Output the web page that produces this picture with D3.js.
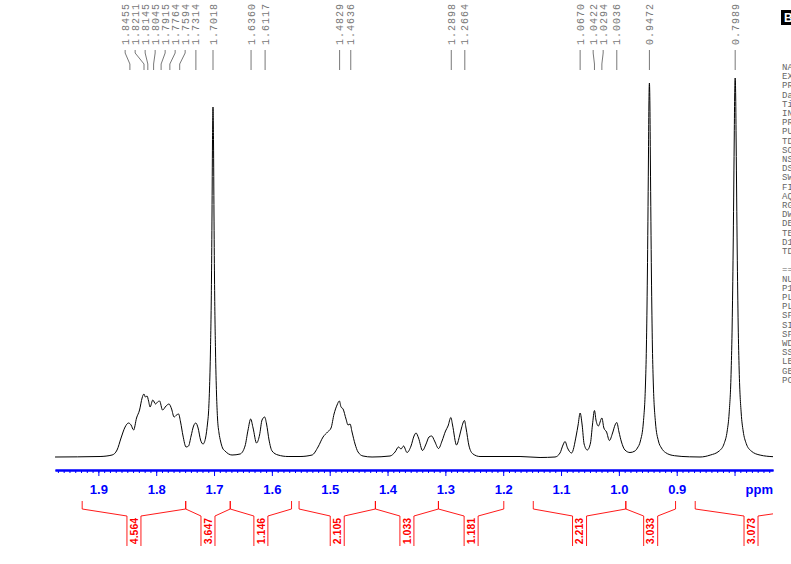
<!DOCTYPE html>
<html>
<head>
<meta charset="utf-8">
<script src="https://cdn.jsdelivr.net/npm/d3@7"></script>
<style>
  html, body { margin: 0; padding: 0; background: #fff; }
  svg { display: block; }
</style>
</head>
<body>
<div id="chart"></div>
<script>
// 1H NMR spectrum, 0.73-1.97 ppm window

// spectrum trace: chemical shift (ppm) and intensity (a.u.)
const spectrumPpm = [
  1.9749, 1.8971, 1.8763, 1.8677, 1.8608, 1.8538, 1.8478, 1.8435, 1.8391, 1.8340,
  1.8288, 1.8244, 1.8213, 1.8187, 1.8158, 1.8132, 1.8106, 1.8059, 1.8011, 1.7977,
  1.7942, 1.7890, 1.7830, 1.7778, 1.7734, 1.7691, 1.7648, 1.7613, 1.7579, 1.7536,
  1.7484, 1.7441, 1.7397, 1.7354, 1.7316, 1.7276, 1.7233, 1.7190, 1.7147, 1.7112,
  1.7096, 1.7079, 1.7061, 1.7044, 1.7035, 1.7027, 1.7018, 1.7009, 1.7001, 1.6992,
  1.6975, 1.6957, 1.6940, 1.6914, 1.6888, 1.6853, 1.6810, 1.6689, 1.6550, 1.6464,
  1.6412, 1.6367, 1.6325, 1.6265, 1.6213, 1.6170, 1.6125, 1.6092, 1.6049, 1.5997,
  1.5893, 1.5720, 1.5513, 1.5305, 1.5202, 1.5115, 1.5037, 1.4977, 1.4925, 1.4873,
  1.4833, 1.4804, 1.4769, 1.4718, 1.4683, 1.4648, 1.4614, 1.4562, 1.4510, 1.4424,
  1.4268, 1.3957, 1.3870, 1.3810, 1.3767, 1.3723, 1.3663, 1.3594, 1.3542, 1.3507,
  1.3464, 1.3395, 1.3334, 1.3283, 1.3236, 1.3187, 1.3118, 1.3058, 1.2997, 1.2954,
  1.2905, 1.2876, 1.2807, 1.2755, 1.2721, 1.2670, 1.2643, 1.2591, 1.2522, 1.2401,
  1.1709, 1.1363, 1.1104, 1.1018, 1.0966, 1.0931, 1.0888, 1.0818, 1.0739, 1.0705,
  1.0670, 1.0635, 1.0601, 1.0546, 1.0491, 1.0457, 1.0422, 1.0396, 1.0355, 1.0294,
  1.0259, 1.0213, 1.0164, 1.0109, 1.0066, 1.0036, 0.9998, 0.9955, 0.9895, 0.9808,
  0.9722, 0.9680, 0.9628, 0.9576, 0.9541, 0.9524, 0.9507, 0.9489, 0.9481, 0.9472,
  0.9463, 0.9455, 0.9437, 0.9420, 0.9403, 0.9368, 0.9316, 0.9264, 0.9195, 0.9040,
  0.8780, 0.8597, 0.8421, 0.8266, 0.8179, 0.8127, 0.8093, 0.8058, 0.8041, 0.8024,
  0.8006, 0.7998, 0.7989, 0.7980, 0.7972, 0.7954, 0.7937, 0.7920, 0.7885, 0.7851,
  0.7799, 0.7712, 0.7557, 0.7332
];
const spectrumInt = [
  1, 1.5, 3, 8, 20, 31, 35, 33, 28, 40,
  48, 60, 64, 61, 62, 57, 51, 58, 54, 56,
  57, 48, 52, 54, 49, 41, 43, 44, 36, 22,
  11, 12, 22, 32, 35, 30, 18, 14, 20, 35,
  45, 68, 110, 180, 245, 315, 351, 315, 245, 180,
  108, 64, 40, 25, 17, 10, 7, 3, 4, 12,
  28, 39, 30, 15, 23, 38, 41, 34, 18, 7,
  3, 1.5, 1.5, 3, 11, 21, 26, 30, 44, 53,
  57, 51, 49, 39, 33, 34, 26, 14, 6, 2,
  1, 2, 6, 11, 9, 12, 5.5, 12, 22, 25,
  20, 7.5, 14, 21, 22, 17, 9.5, 17, 27, 32,
  40.5, 33, 13, 22, 30, 37.5, 30, 12, 4, 1.5,
  1.5, 0.5, 1, 5, 13, 16.5, 10, 5, 22, 33,
  45, 33, 14, 8, 15, 33, 47.5, 38, 32, 40,
  30, 26, 17.5, 25, 33, 35.5, 26, 16, 8, 5.5,
  7, 10, 17, 36, 72, 111, 183, 297, 352, 375,
  352, 297, 183, 111, 72, 36, 17, 10, 5.5, 2.3,
  1.2, 1, 2.9, 7, 14.6, 27, 45, 88, 133, 208,
  315, 361, 380, 361, 315, 208, 133, 88, 45, 27,
  14.6, 7, 2.9, 1.3
];

// picked peaks
const peakPpm = [
  1.8455, 1.8211, 1.8145, 1.8045, 1.7915, 1.7764, 1.7594, 1.7314, 1.7018,
  1.6360, 1.6117, 1.4829, 1.4636, 1.2898, 1.2664,
  1.0670, 1.0422, 1.0294, 1.0036, 0.9472, 0.7989
];

// integral regions (ppm from, ppm to) and values
const integralFrom = [1.928, 1.749, 1.672, 1.553, 1.421, 1.312, 1.148, 0.988, 0.868];
const integralTo = [1.749, 1.672, 1.566, 1.421, 1.312, 1.199, 0.988, 0.902, 0.675];
const integralValue = ["4.564", "3.647", "1.146", "2.105", "1.033", "1.181", "2.213", "3.033", "3.073"];

// axis
const majorTicks = [1.9, 1.8, 1.7, 1.6, 1.5, 1.4, 1.3, 1.2, 1.1, 1.0, 0.9, 0.8];
const tickLabels = ["1.9", "1.8", "1.7", "1.6", "1.5", "1.4", "1.3", "1.2", "1.1", "1.0", "0.9", ""];

// acquisition parameter names (the column is cut off by the right edge)
const paramNames = [
  "NAME", "EXPNO", "PROCNO", "Date_", "Time", "INSTRUM", "PROBHD", "PULPROG",
  "TD", "SOLVENT", "NS", "DS", "SWH", "FIDRES", "AQ", "RG", "DW", "DE", "TE",
  "D1", "TD0", "", "======== CHANNEL f1 ========", "NUC1", "P1", "PL1", "PL1W",
  "SFO1", "SI", "SF", "WDW", "SSB", "LB", "GB", "PC"
];

const W = 791, H = 564;
const plotLeft = 55, plotRight = 773;
const baseY = 458, axisY = 470;
const monoFont = '"Liberation Mono", "DejaVu Sans Mono", monospace';
const sansFont = '"Liberation Sans", Arial, sans-serif';

const x = d3.scaleLinear().domain([1.975, 0.7335]).range([plotLeft, plotRight]);
const y = d3.scaleLinear().domain([0, 380]).range([baseY, 78]);

const svg = d3.select("#chart")
  .append("svg")
  .attr("width", W)
  .attr("height", H)
  .attr("viewBox", `0 0 ${W} ${H}`);

svg.append("rect").attr("width", W).attr("height", H).attr("fill", "#fff");

const defs = svg.append("defs");
defs.append("clipPath").attr("id", "plotClip")
  .append("rect").attr("x", plotLeft - 2).attr("y", 0)
  .attr("width", plotRight - plotLeft + 2).attr("height", H);

// Spectrum
const spec = spectrumPpm.map((p, i) => ({ ppm: p, v: spectrumInt[i] }));
const line = d3.line()
  .x((d) => x(d.ppm))
  .y((d) => y(d.v))
  .curve(d3.curveMonotoneX);

svg.append("path")
  .datum(spec)
  .attr("clip-path", "url(#plotClip)")
  .attr("fill", "none")
  .attr("stroke", "#000")
  .attr("stroke-width", 1)
  .attr("d", line);

// Peak labels: spread overlapping labels apart, centred on their group
function spreadLabels(xs, gap) {
  let groups = xs.map((v, i) => ({ idx: [i], center: v }));
  let changed = true;
  while (changed) {
    changed = false;
    const next = [];
    for (const g of groups) {
      const prev = next[next.length - 1];
      if (prev) {
        const prevEnd = prev.center + (prev.idx.length - 1) * gap / 2;
        const gStart = g.center - (g.idx.length - 1) * gap / 2;
        if (gStart - prevEnd < gap) {
          prev.idx = prev.idx.concat(g.idx);
          prev.center = d3.mean(prev.idx, (k) => xs[k]);
          changed = true;
          continue;
        }
      }
      next.push({ idx: g.idx.slice(), center: g.center });
    }
    groups = next;
  }
  const out = new Array(xs.length);
  for (const g of groups) {
    const n = g.idx.length;
    g.idx.forEach((k, j) => { out[k] = g.center + (j - (n - 1) / 2) * gap; });
  }
  return out;
}

const peakX = peakPpm.map((p) => x(p));
const labelX = spreadLabels(peakX, 10);

const peakG = svg.append("g");
peakG.selectAll("path.conn")
  .data(peakPpm)
  .join("path")
  .attr("class", "conn")
  .attr("fill", "none")
  .attr("stroke", "#555")
  .attr("stroke-width", 0.8)
  .attr("d", (d, i) => `M${labelX[i]},50 L${labelX[i]},53 L${peakX[i]},64 L${peakX[i]},70`);

peakG.selectAll("text.plabel")
  .data(peakPpm)
  .join("text")
  .attr("class", "plabel")
  .attr("transform", (d, i) => `translate(${labelX[i]},45) rotate(-90)`)
  .attr("dy", "0.35em")
  .attr("text-anchor", "start")
  .attr("font-family", monoFont)
  .attr("font-size", 10)
  .attr("letter-spacing", 1)
  .attr("fill", "#777")
  .text((d) => d.toFixed(4));

// Axis
const minorTicks = d3.range(197, 73, -1).map((v) => v / 100);
const minorAxis = d3.axisBottom(x).tickValues(minorTicks).tickSize(3).tickSizeOuter(0).tickFormat("");
const majorAxis = d3.axisBottom(x).tickValues(majorTicks).tickSize(6).tickSizeOuter(0)
  .tickFormat((d, i) => tickLabels[i]);

const axisColor = "#0000ff";
const gMinor = svg.append("g").attr("transform", `translate(0,${axisY})`).call(minorAxis);
const gMajor = svg.append("g").attr("transform", `translate(0,${axisY})`).call(majorAxis);
[gMinor, gMajor].forEach((g) => {
  g.select(".domain").attr("stroke", axisColor).attr("stroke-width", 2);
  g.selectAll(".tick line").attr("stroke", axisColor).attr("stroke-width", 1);
});
gMajor.selectAll(".tick text")
  .attr("y", 15)
  .attr("fill", axisColor)
  .attr("font-family", sansFont)
  .attr("font-weight", "bold")
  .attr("font-size", 13);

svg.append("text")
  .attr("x", plotRight)
  .attr("y", 494)
  .attr("text-anchor", "end")
  .attr("fill", axisColor)
  .attr("font-family", sansFont)
  .attr("font-weight", "bold")
  .attr("font-size", 13)
  .text("ppm");

// Integrals
const integralG = svg.append("g").attr("clip-path", "url(#plotClip)");
const bw = 7;
integralG.selectAll("path.integ")
  .data(integralValue)
  .join("path")
  .attr("class", "integ")
  .attr("fill", "none")
  .attr("stroke", "#ff0000")
  .attr("stroke-width", 0.9)
  .attr("d", (d, i) => {
    const xa = x(integralFrom[i]), xb = x(integralTo[i]);
    const cx = (xa + xb) / 2;
    return `M${xa},501 L${xa},509 L${cx - bw},516 L${cx - bw},546 ` +
      `M${cx + bw},546 L${cx + bw},516 L${xb},509 L${xb},501`;
  });

integralG.selectAll("text.ival")
  .data(integralValue)
  .join("text")
  .attr("class", "ival")
  .attr("transform", (d, i) => `translate(${(x(integralFrom[i]) + x(integralTo[i])) / 2},531) rotate(-90)`)
  .attr("dy", "0.36em")
  .attr("text-anchor", "middle")
  .attr("fill", "#ff0000")
  .attr("font-family", sansFont)
  .attr("font-weight", "bold")
  .attr("font-size", 10.5)
  .text((d) => d);

// Parameter block at right edge (mostly outside the page)
svg.append("rect").attr("x", 781).attr("y", 10).attr("width", 30).attr("height", 15).attr("fill", "#000");
svg.append("text")
  .attr("x", 784).attr("y", 22)
  .attr("fill", "#fff")
  .attr("font-family", sansFont)
  .attr("font-weight", "bold")
  .attr("font-size", 12)
  .text("BRUKER");

svg.append("g")
  .selectAll("text")
  .data(paramNames)
  .join("text")
  .attr("x", 782)
  .attr("y", (d, i) => 70 + i * 9.2)
  .attr("fill", "#666")
  .attr("font-family", monoFont)
  .attr("font-size", 9)
  .text((d) => d);
</script>
</body>
</html>
